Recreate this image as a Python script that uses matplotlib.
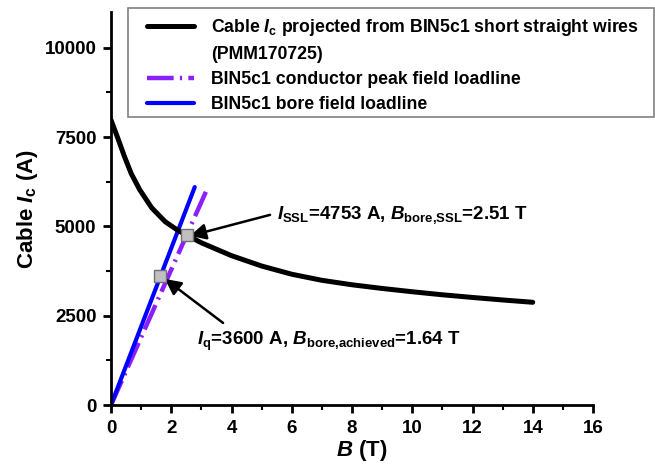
import matplotlib
matplotlib.use("Agg")
import matplotlib.pyplot as plt
from matplotlib.ticker import MultipleLocator
from matplotlib.patches import Rectangle
from matplotlib.lines import Line2D

# ---- data ----
ic_B = [0, 0.23, 0.45, 0.67, 0.95, 1.35, 1.8, 2.2, 2.51, 3, 4, 5, 6, 7, 8, 9, 10, 11, 12, 13, 14]
ic_I = [7975, 7460, 6947, 6480, 6030, 5520, 5130, 4900, 4753, 4540, 4180, 3890, 3660, 3490,
        3365, 3262, 3170, 3085, 3010, 2940, 2875]
peak_B = [0, 3.22]
peak_I = [0, 6100]
bore_B = [0, 2.78]
bore_I = [0, 6100]
ssl_point = (2.51, 4753)
q_point = (1.64, 3600)

labels = [r"Cable $I_{\mathrm{c}}$ projected from BIN5c1 short straight wires",
          "(PMM170725)",
          "BIN5c1 conductor peak field loadline",
          "BIN5c1 bore field loadline"]

plt.rcParams['font.family'] = ['Liberation Sans', 'DejaVu Sans']
plt.rcParams['font.weight'] = 'bold'
plt.rcParams['mathtext.fontset'] = 'custom'
plt.rcParams['mathtext.rm'] = 'Liberation Sans:bold'
plt.rcParams['mathtext.it'] = 'Liberation Sans:italic:bold'
plt.rcParams['mathtext.bf'] = 'Liberation Sans:bold'

fig = plt.figure(figsize=(6.55, 4.68), dpi=100)
ax = fig.add_axes([111/655, 1-405/468, (593-111)/655, (405-12)/468])

l1, = ax.plot(ic_B, ic_I, color='black', lw=3.6, solid_capstyle='round',
              solid_joinstyle='round', zorder=3)
l2, = ax.plot(peak_B, peak_I, color='#8C1EFF', lw=3.2, linestyle=(0, (6, 1.4, 0.5, 1.4)), zorder=2)
l3, = ax.plot(bore_B, bore_I, color='#0000FF', lw=3, solid_capstyle='round', zorder=2)

for p in (ssl_point, q_point):
    ax.plot(p[0], p[1], marker='s', ms=9, mfc='#c0c0c0', mec='#707070', mew=1, zorder=5)

ax.set_xlim(0, 16)
ax.set_ylim(0, 11000)
ax.xaxis.set_major_locator(MultipleLocator(2))
ax.xaxis.set_minor_locator(MultipleLocator(1))
ax.yaxis.set_major_locator(MultipleLocator(2500))
ax.yaxis.set_minor_locator(MultipleLocator(1250))
for s in ('top', 'right'):
    ax.spines[s].set_visible(False)
for s in ('left', 'bottom'):
    ax.spines[s].set_linewidth(2)
ax.tick_params(which='major', direction='out', length=5.5, width=2, labelsize=13.5, pad=5)
ax.tick_params(which='minor', direction='out', length=3.5, width=1.5)
for lab in ax.get_xticklabels() + ax.get_yticklabels():
    lab.set_fontweight('bold')

ax.set_xlabel(r"$B$ (T)", fontsize=16, fontweight='bold', labelpad=1)
ax.xaxis.label.set_x((362 - 111) / 482)
ax.set_ylabel(r"Cable $I_{\mathrm{c}}$ (A)", fontsize=16, fontweight='bold', labelpad=3)

blank = Line2D([], [], color='none')
leg = fig.legend([l1, blank, l2, l3], labels, loc='upper left',
                 bbox_to_anchor=(147/655, 1-17/468), bbox_transform=fig.transFigure,
                 borderaxespad=0, frameon=False, fontsize=12.7,
                 handlelength=2.67, handletextpad=0.97, labelspacing=0.46,
                 borderpad=0)
for t in leg.get_texts():
    t.set_fontweight('bold')
fig.add_artist(Rectangle((128/655, 1-117/468), (654-128)/655, (117-8)/468,
                         transform=fig.transFigure, fill=False,
                         edgecolor='#808080', lw=1.2))

arrow = dict(arrowstyle='-|>', color='black', lw=1.8, mutation_scale=24, shrinkA=0, shrinkB=0)
ax.annotate('', xy=(2.62, 4734), xytext=(5.28, 5322), arrowprops=arrow)
ax.text(5.5, 5322, r"$I_{\mathrm{SSL}}$=4753 A, $B_{\mathrm{bore{,}SSL}}$=2.51 T",
        fontsize=13.5, fontweight='bold', va='center', ha='left')
ax.annotate('', xy=(1.79, 3529), xytext=(3.72, 2297), arrowprops=arrow)
ax.text(2.85, 1780, r"$I_{\mathrm{q}}$=3600 A, $B_{\mathrm{bore{,}achieved}}$=1.64 T",
        fontsize=13.5, fontweight='bold', va='center', ha='left')

fig.savefig('out.png', dpi=100)
